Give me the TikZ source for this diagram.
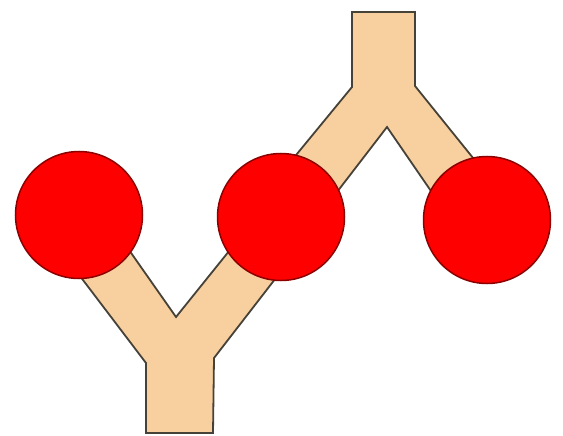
\documentclass[tikz,border=0pt]{standalone}
\begin{document}
\begin{tikzpicture}[x=1pt,y=-1pt,
  ball/.style={circle,fill=red,draw=red!55!black,line width=1.5pt,minimum size=127pt,inner sep=0pt},
  tube/.style={fill=peach,draw=tubeline,line width=1.8pt,line join=miter}]
\definecolor{peach}{RGB}{248,208,160}
\definecolor{tubeline}{RGB}{70,66,56}
\useasboundingbox (0,0) rectangle (563,436);
% bottom Y
\draw[tube] (146,433) -- (213,433) -- (214,358) -- (313,230) -- (246,230) -- (176,317)
  -- (115,230) -- (45,230) -- (146,363) -- cycle;
% top Y
\draw[tube] (352,12) -- (415,12) -- (415,86) -- (515,210) -- (444,210) -- (387,127)
  -- (327,205) -- (255,205) -- (352,87) -- cycle;
\node[ball] (left) at (79,215) {};
\node[ball] (mid) at (281,217) {};
\node[ball] (right) at (487,220) {};
\end{tikzpicture}
\end{document}
